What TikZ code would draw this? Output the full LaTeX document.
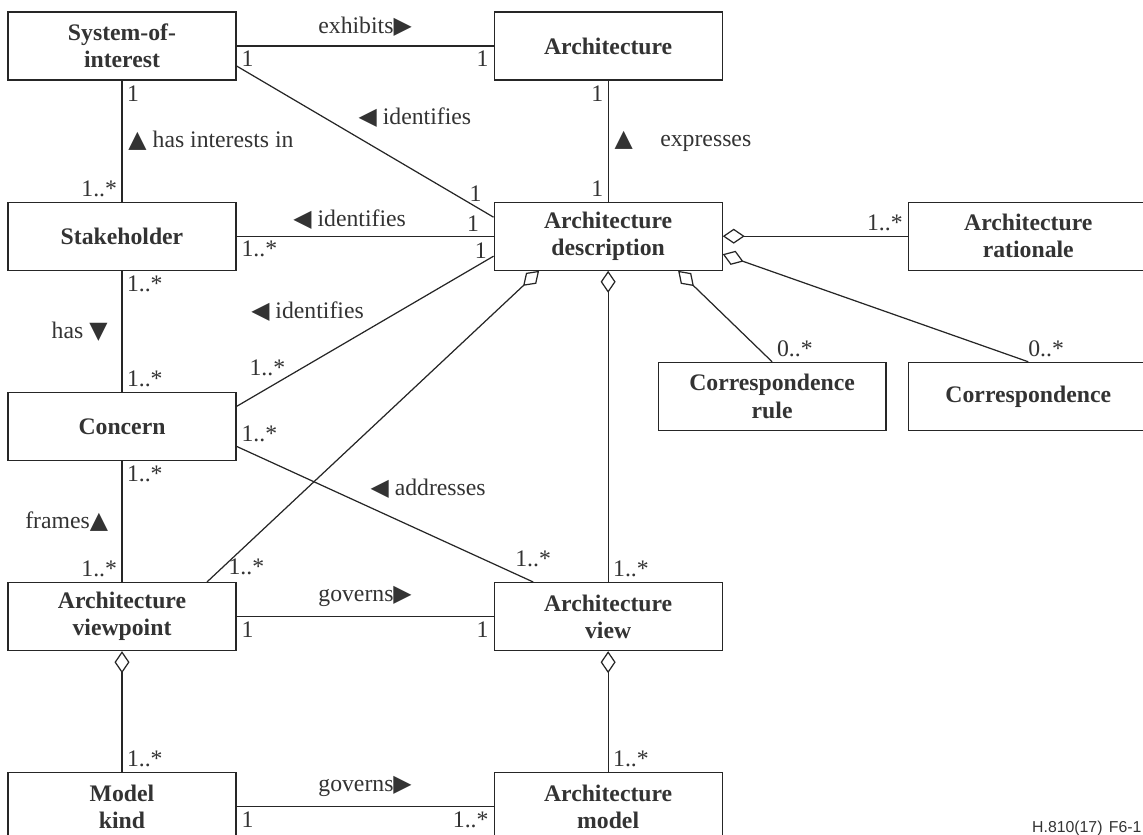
\documentclass[tikz,border=0pt]{standalone}
\usepackage{fontspec}
\setmainfont{Liberation Serif}
\setsansfont{Liberation Sans}
\newfontfamily\symfont{DejaVu Sans}
\usetikzlibrary{positioning,arrows.meta}
\newcommand{\rtri}{{\symfont ▶}}
\newcommand{\ltri}{{\symfont ◀}}
\newcommand{\utri}{{\symfont ▲}}
\newcommand{\dtri}{{\symfont ▼}}

\begin{document}
\begin{tikzpicture}[x=0.02cm,y=-0.02cm,node distance=2.42cm and 5.14cm,
  font=\fontsize{13.5}{15.5}\selectfont,line width=0.7pt]
  \tikzstyle{classbox}=[rectangle,draw=black!85,text=black!80,
  			  font=\fontsize{13.5}{15.5}\selectfont\bfseries,align=center,
  			  minimum width=4.56cm,minimum height=1.36cm,inner sep=0pt]
  \tikzstyle{wide}=[classbox,minimum width=4.8cm]
  \tikzstyle{assoc}=[draw=black!85]
  \tikzstyle{agg}=[assoc,-{Diamond[open,length=0.44cm,width=0.3cm]}]
  \tikzstyle{mult}=[text=black!80,inner sep=2.5pt]
  \tikzstyle{role}=[text=black!80]

  \useasboundingbox (0,0) rectangle (1143,835);

  % classes
  \node [classbox] (soi) at (122,46) {System-of-\\interest};
  \node [classbox] (stake) [below=of soi] {Stakeholder};
  \node [classbox] (concern) [below=of stake] {Concern};
  \node [classbox] (vp) [below=of concern] {Architecture\\viewpoint};
  \node [classbox] (mk) [below=of vp] {Model\\kind};
  \node [classbox] (arch) [right=of soi] {Architecture};
  \node [classbox] (ad) [below=of arch] {Architecture\\description};
  \node [classbox] (view) [right=of vp] {Architecture\\view};
  \node [classbox] (model) [right=of mk] {Architecture\\model};
  \node [wide] (rat) [right=3.7cm of ad] {Architecture\\rationale};
  \node [wide] (corr) [below=1.82cm of rat] {Correspondence};
  \node [classbox] (crule) [left=0.42cm of corr] {Correspondence\\rule};

  % associations
  \draw [assoc] (soi) -- node[role,above=2pt] {exhibits\rtri}
    node[mult,pos=0,below right] {1} node[mult,pos=1,below left] {1} (arch);
  \draw [assoc] ([yshift=-0.4cm]soi.east) -- node[role,pos=.45,above right] {\ltri~identifies}
    node[mult,pos=.93,above] {1} ([yshift=0.38cm]ad.west);
  \draw [assoc] (soi) -- node[role,right] {\utri~has interests in}
    node[mult,pos=0,below right] {1} node[mult,pos=1,above left] {1..*} (stake);
  \draw [assoc] (arch) -- node[role,right] {\utri\hspace{0.55cm}expresses}
    node[mult,pos=0,below left] {1} node[mult,pos=1,above left] {1} (ad);
  \draw [assoc] (stake) -- node[role,pos=.44,above] {\ltri~identifies}
    node[mult,pos=0,below right] {1..*} node[mult,pos=.92,above] {1} (ad);
  \draw [assoc] (stake) -- node[role,left=0.16cm] {has \dtri}
    node[mult,pos=0,below right] {1..*} node[mult,pos=1,above right] {1..*} (concern);
  \draw [assoc] ([yshift=0.4cm]concern.east) -- node[role,pos=.52,above left] {\ltri~identifies}
    node[mult,pos=.12,above,yshift=0.15cm] {1..*} node[mult,pos=.95,above] {1} ([yshift=-0.4cm]ad.west);
  \draw [assoc] ([yshift=-0.4cm]concern.east) -- node[role,pos=.43,above right] {\ltri~addresses}
    node[mult,pos=0,above right] {1..*} node[mult,pos=1,above,yshift=0.2cm] {1..*} ([xshift=-1.5cm]view.north);
  \draw [assoc] (concern) -- node[role,left=0.15cm] {frames\utri}
    node[mult,pos=0,below right] {1..*} node[mult,pos=1,above left] {1..*} (vp);
  \draw [assoc] (vp) -- node[role,above=2pt] {governs\rtri}
    node[mult,pos=0,below right] {1} node[mult,pos=1,below left] {1} (view);
  \draw [assoc] (mk) -- node[role,above=2pt] {governs\rtri}
    node[mult,pos=0,below right] {1} node[mult,pos=1,below left] {1..*} (model);

  % aggregations
  \draw [agg] ([xshift=1.7cm]vp.north) -- node[mult,pos=.05,right] {1..*} ([xshift=-1.38cm]ad.south);
  \draw [agg] (view) -- node[mult,pos=0,above right] {1..*} (ad);
  \draw [agg] (crule.north) -- node[mult,pos=0,above right] {0..*} ([xshift=1.4cm]ad.south);
  \draw [agg] (rat) -- node[mult,pos=0,above left] {1..*} (ad);
  \draw [agg] (corr.north) -- node[mult,pos=0,above right,xshift=-0.1cm] {0..*} ([yshift=-0.36cm]ad.east);
  \draw [agg] (mk) -- node[mult,pos=0,above right] {1..*} (vp);
  \draw [agg] (model) -- node[mult,pos=0,above right] {1..*} (view);

  \node [text=black!80,font=\sffamily\fontsize{9}{10}\selectfont,anchor=base east,inner sep=0pt]
    (fig) at (1142,832) {H.810(17)\hspace{0.4em}F6-1};
\end{tikzpicture}
\end{document}
